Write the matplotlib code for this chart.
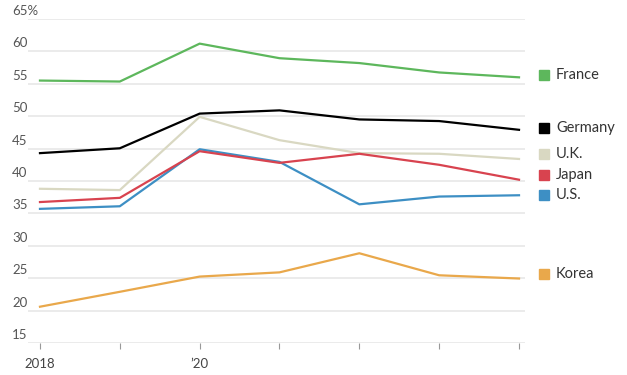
import matplotlib.pyplot as plt
from matplotlib import transforms

years = [2018, 2019, 2020, 2021, 2022, 2023, 2024]
france = [55.5, 55.35, 61.2, 58.95, 58.2, 56.75, 56.0]
germany = [44.3, 45.05, 50.4, 50.9, 49.5, 49.25, 47.9]
uk = [38.8, 38.6, 49.9, 46.3, 44.3, 44.2, 43.4]
japan = [36.75, 37.4, 44.6, 42.8, 44.2, 42.5, 40.2]
us = [35.7, 36.1, 44.9, 42.95, 36.4, 37.6, 37.8]
korea = [20.6, 22.9, 25.25, 25.9, 28.85, 25.45, 24.95]

y_ticks = [15, 20, 25, 30, 35, 40, 45, 50, 55, 60, 65]
y_labels = ["15", "20", "25", "30", "35", "40", "45", "50", "55", "60", "65%"]
x_labels = {2018: "2018", 2020: "\u201920"}

# draw order: back to front
series = [
    ("U.K.", uk, "#d9d8c2", 44.1),
    ("U.S.", us, "#3d8fc4", 37.9),
    ("Japan", japan, "#d8434f", 41.0),
    ("Korea", korea, "#e9a84b", 25.6),
    ("France", france, "#5db75c", 56.4),
    ("Germany", germany, "#000000", 48.2),
]

plt.rcParams["font.family"] = ["Lato", "DejaVu Sans"]

W, H = 627, 375
fig = plt.figure(figsize=(W / 100, H / 100), dpi=100)
ax_left, ax_right, ax_top, ax_bottom = 28, 525, 19, 343
ax = fig.add_axes([ax_left / W, (H - ax_bottom) / H,
                   (ax_right - ax_left) / W, (ax_bottom - ax_top) / H])

ax.set_xlim(2018 - 12 / 80, 2024 + 6 / 80)
ax.set_ylim(15, 65)

for v in y_ticks:
    ax.axhline(v, color="#e9e9e9", lw=1.3, zorder=0)

for name, vals, col, ly in series:
    ax.plot(years, vals, color=col, lw=1.6, zorder=3)

for s in ax.spines.values():
    s.set_visible(False)

ax.set_yticks([])
ax.set_xticks(years)
ax.set_xticklabels([x_labels.get(y, "") for y in years], fontsize=9.5, color="#444444")
ax.tick_params(axis="x", length=4, width=0.8, color="#999999", pad=7)

# y labels sit left, just above grid lines
ytrans = transforms.offset_copy(ax.get_yaxis_transform(), fig=fig, x=0, y=2, units="dots")
for v, lab in zip(y_ticks, y_labels):
    ax.text((12 - ax_left) / (ax_right - ax_left), v, lab, transform=ytrans,
            ha="left", va="bottom", fontsize=9.5, color="#555555")

# right-side labels with colored squares
for name, vals, col, ly in series:
    ax.plot([(544 - ax_left) / (ax_right - ax_left)], [ly], marker="s", ms=6.8,
            color=col, transform=ax.get_yaxis_transform(), clip_on=False, lw=0)
    ax.text((556 - ax_left) / (ax_right - ax_left), ly, name,
            transform=ax.get_yaxis_transform(), ha="left", va="center",
            fontsize=10.5, color="#333333")

fig.savefig("out.png", dpi=100)
